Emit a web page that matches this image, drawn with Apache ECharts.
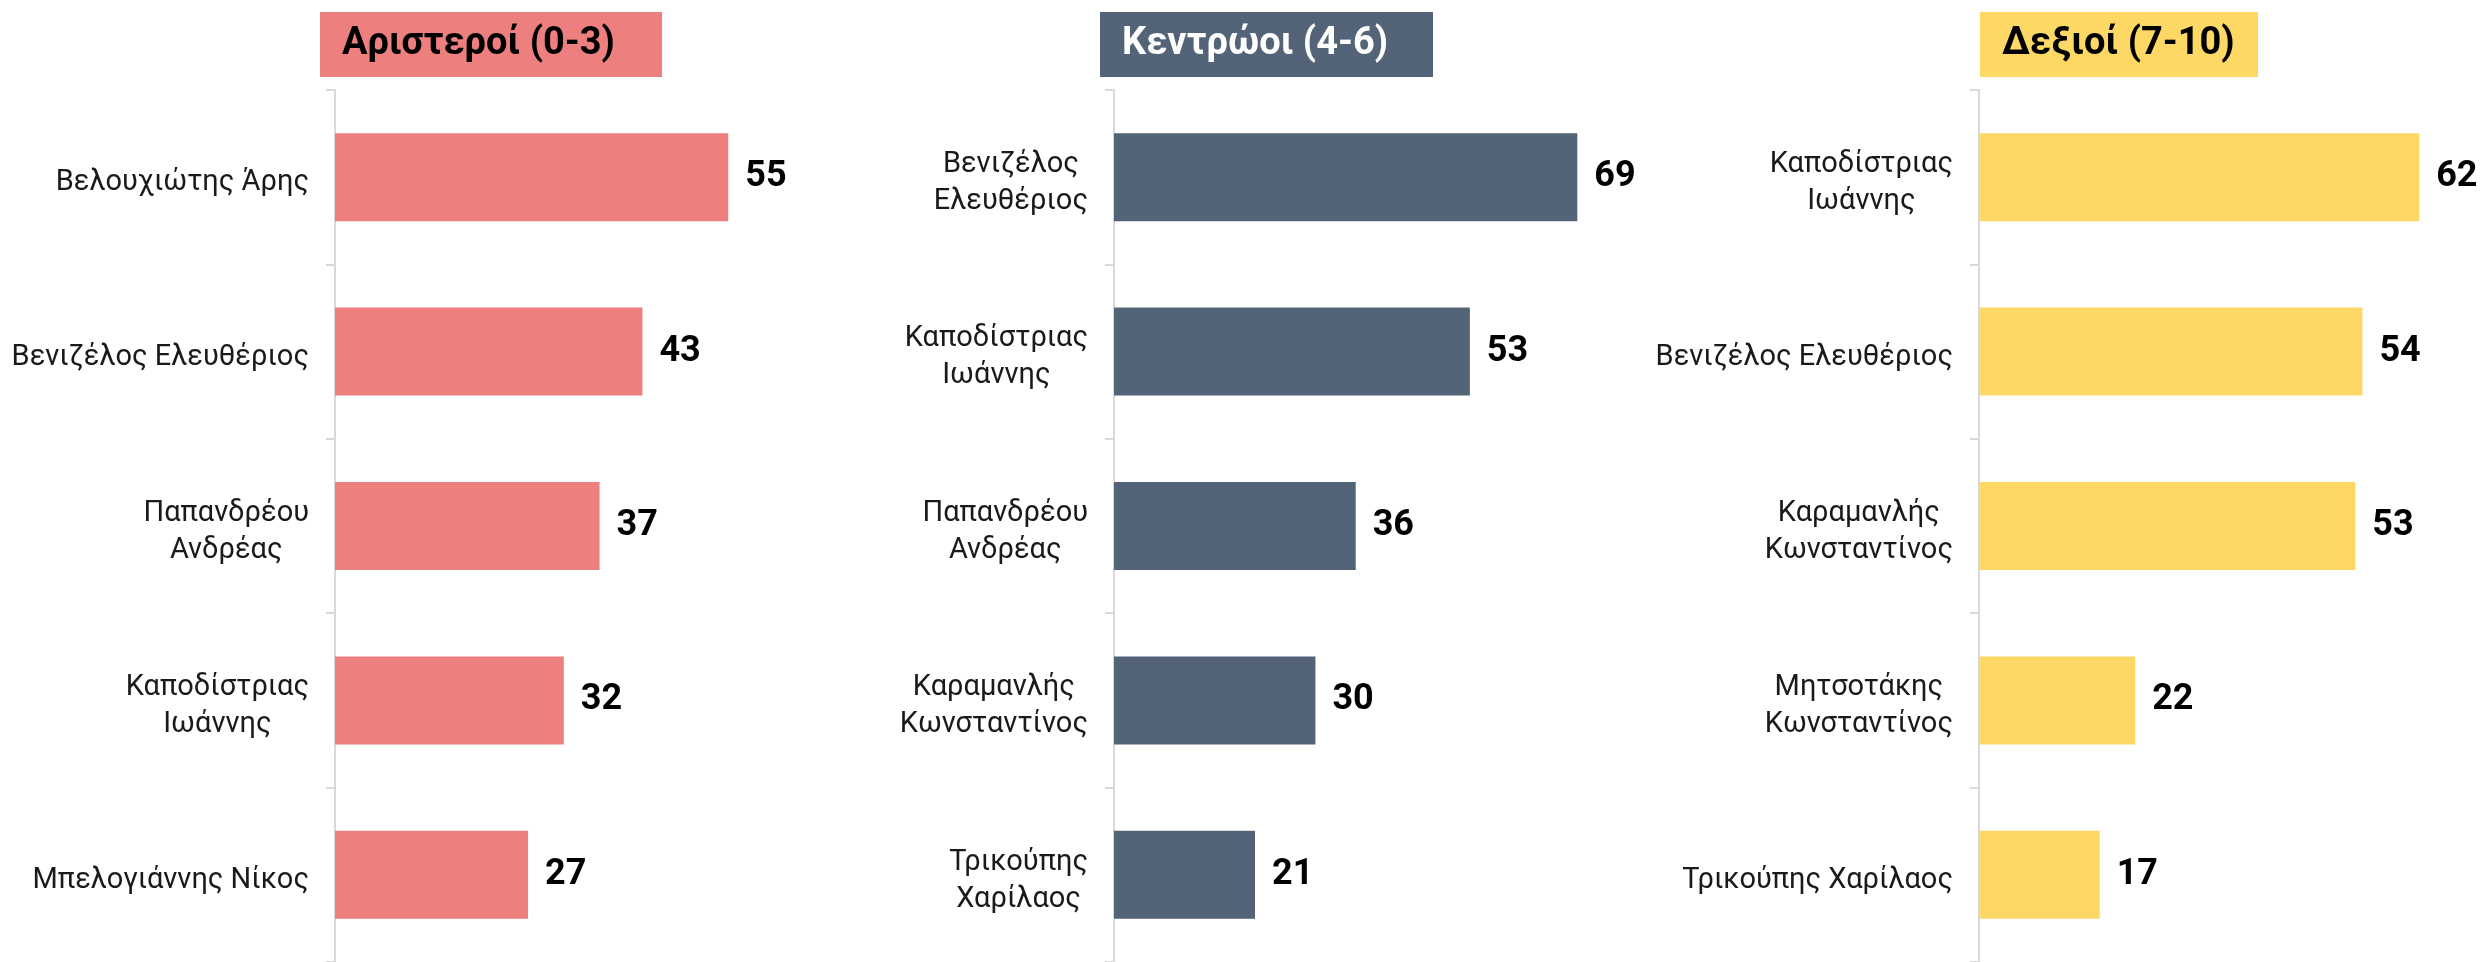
<!DOCTYPE html>
<html>
<head>
<meta charset="utf-8">
<title>Ιδεολογική αυτοτοποθέτηση</title>
<script src="https://cdn.jsdelivr.net/npm/echarts@6.0.0/dist/echarts.min.js"></script>
<style>
    html, body { margin: 0; padding: 0; background: #fff; }
    #chart { width: 2486px; height: 962px; }
</style>
</head>
<body>
<div id="chart"></div>
<script>
// === DATA ===
const groupTitles = ['Αριστεροί (0-3)', 'Κεντρώοι (4-6)', 'Δεξιοί (7-10)'];

const leftCategories = ['Βελουχιώτης Άρης', 'Βενιζέλος Ελευθέριος', 'Παπανδρέου\nΑνδρέας', 'Καποδίστριας\nΙωάννης', 'Μπελογιάννης Νίκος'];
const leftValues = [55, 43, 37, 32, 27];

const centreCategories = ['Βενιζέλος\nΕλευθέριος', 'Καποδίστριας\nΙωάννης', 'Παπανδρέου\nΑνδρέας', 'Καραμανλής\nΚωνσταντίνος', 'Τρικούπης\nΧαρίλαος'];
const centreValues = [69, 53, 36, 30, 21];

const rightCategories = ['Καποδίστριας\nΙωάννης', 'Βενιζέλος Ελευθέριος', 'Καραμανλής\nΚωνσταντίνος', 'Μητσοτάκης\nΚωνσταντίνος', 'Τρικούπης Χαρίλαος'];
const rightValues = [62, 54, 53, 22, 17];

// === LAYOUT ===
const panels = [
    { categories: leftCategories, values: leftValues, left: 335, width: 429, max: 60, color: '#ED7F7E', titleLeft: 320, titleWidth: 342, titleColor: '#000' },
    { categories: centreCategories, values: centreValues, left: 1114, width: 470, max: 70, color: '#536478', titleLeft: 1100, titleWidth: 333, titleColor: '#fff' },
    { categories: rightCategories, values: rightValues, left: 1979, width: 497, max: 70, color: '#FDD865', titleLeft: 1980, titleWidth: 278, titleColor: '#000' }
];

const labelFont = 'Roboto, "Noto Sans", sans-serif';
const boldFont = 'Roboto, "Liberation Sans", sans-serif';

const chartDom = document.getElementById('chart');
const chart = echarts.init(chartDom, null, { renderer: 'canvas' });

const option = {
    backgroundColor: '#fff',
    animation: false,
    title: panels.map((p, i) => ({
        text: groupTitles[i],
        left: p.titleLeft,
        top: 12,
        padding: [0, 0, 0, 22],
        backgroundColor: p.color,
        textStyle: {
            width: p.titleWidth - 22,
            lineHeight: 65,
            fontSize: 38,
            fontWeight: 'bold',
            fontFamily: boldFont,
            color: p.titleColor
        }
    })),
    grid: panels.map(p => ({ left: p.left, width: p.width, top: 90, bottom: 0, containLabel: false })),
    xAxis: panels.map((p, i) => ({
        type: 'value',
        gridIndex: i,
        min: 0,
        max: p.max,
        show: false,
        splitLine: { show: false }
    })),
    yAxis: panels.map((p, i) => ({
        type: 'category',
        gridIndex: i,
        inverse: true,
        data: p.categories,
        axisLine: { show: true, lineStyle: { color: '#d9d9d9', width: 2 } },
        axisTick: { show: true, length: 9, lineStyle: { color: '#d9d9d9', width: 2 } },
        axisLabel: {
            margin: 26,
            align: 'right',
            padding: [12, 0, 0, 0],
            formatter: v => v.split('\n').map(s => '{c|' + s + '}').join('\n'),
            rich: {
                c: { align: 'center', fontSize: 29, lineHeight: 37, fontFamily: labelFont, color: '#1a1a1a' }
            }
        },
        splitLine: { show: false }
    })),
    series: panels.map((p, i) => ({
        type: 'bar',
        xAxisIndex: i,
        yAxisIndex: i,
        data: p.values,
        barWidth: 88,
        itemStyle: { color: p.color },
        label: {
            show: true,
            position: 'right',
            distance: 17,
            padding: [16, 0, 0, 0],
            fontSize: 36,
            fontWeight: 'bold',
            fontFamily: boldFont,
            color: '#000'
        }
    }))
};

chart.setOption(option);
window.addEventListener('resize', () => chart.resize());
</script>
</body>
</html>
